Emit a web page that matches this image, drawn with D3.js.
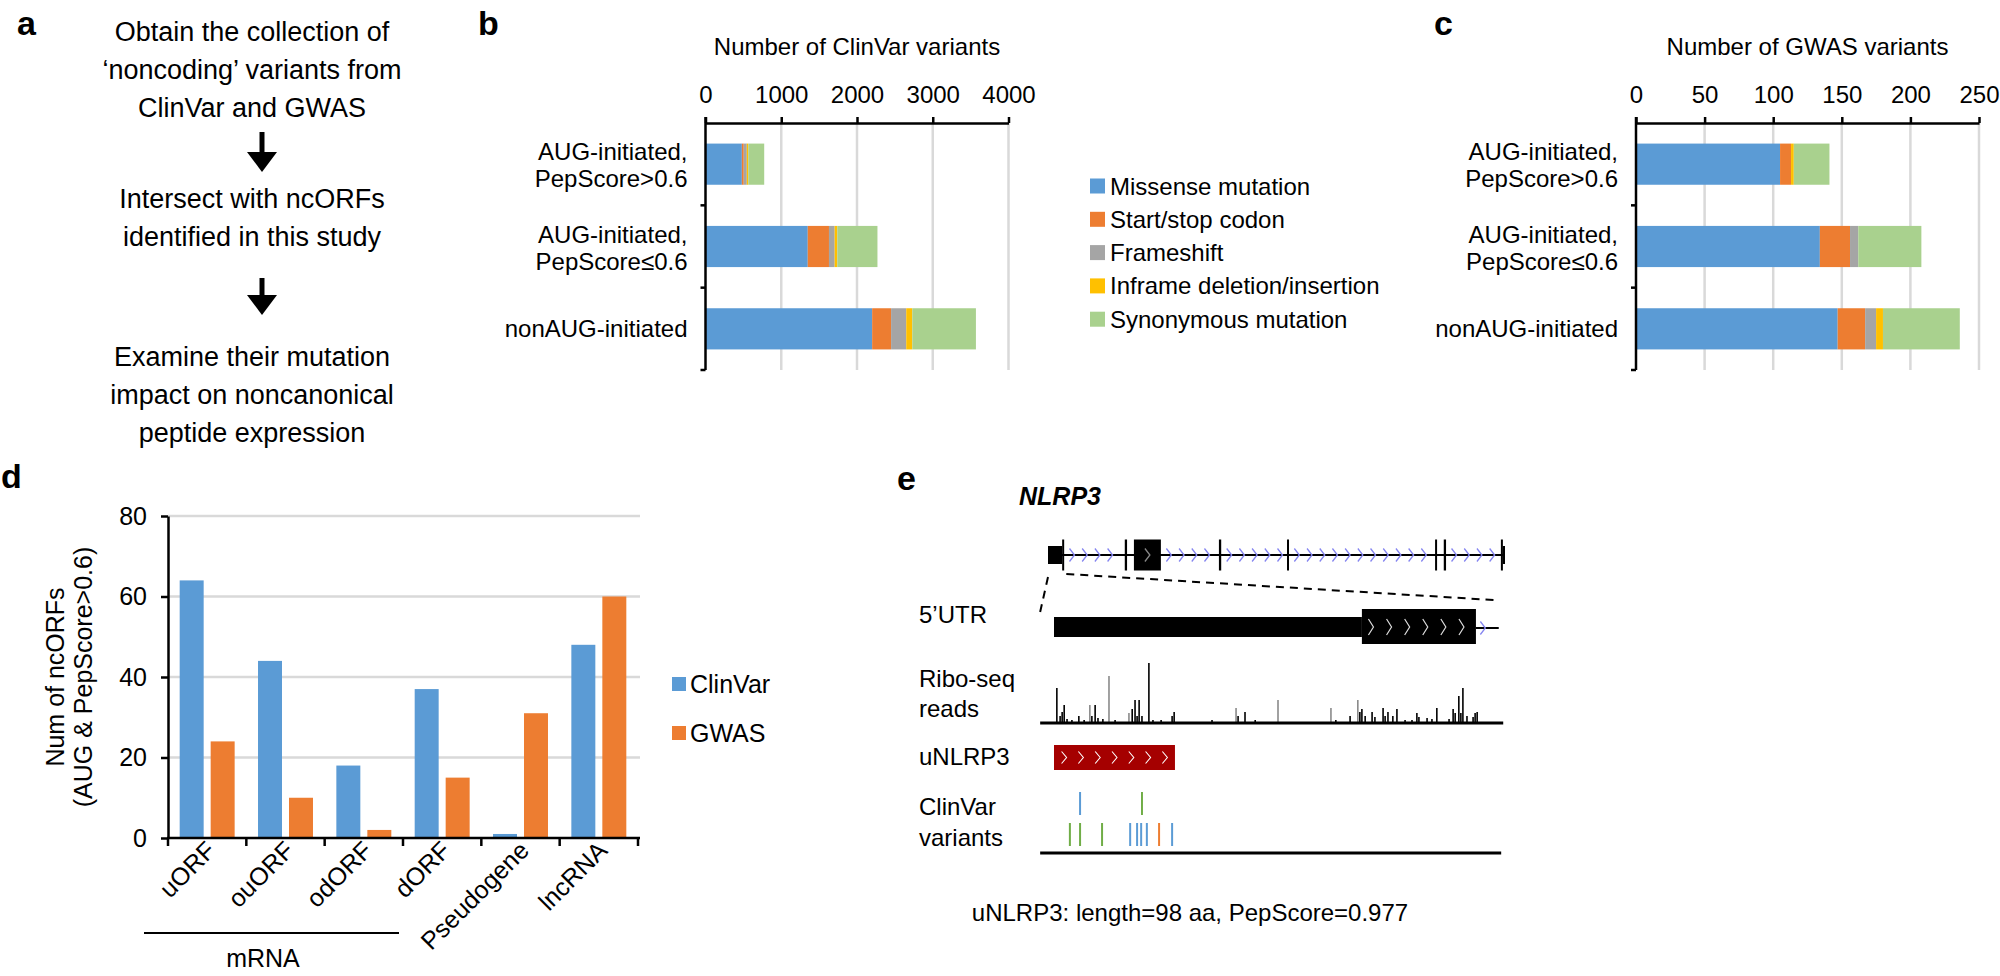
<!DOCTYPE html>
<html>
<head>
<meta charset="utf-8">
<script src="https://cdn.jsdelivr.net/npm/d3@7"></script>
<style>
  body { margin: 0; background: #fff; }
  svg { display: block; font-family: "Liberation Sans", Arial, sans-serif; }
</style>
</head>
<body>
<svg id="fig"></svg>
<script>
// ---- data ----
const flowSteps = [
  ["Obtain the collection of", "\u2018noncoding\u2019 variants from", "ClinVar and GWAS"],
  ["Intersect with ncORFs", "identified in this study"],
  ["Examine their mutation", "impact on noncanonical", "peptide expression"]
];

const orfGroups = ["AUG-initiated,\nPepScore>0.6", "AUG-initiated,\nPepScore\u22640.6", "nonAUG-initiated"];
const mutationTypes = ["Missense mutation", "Start/stop codon", "Frameshift", "Inframe deletion/insertion", "Synonymous mutation"];
const mutationColors = ["#5b9bd5", "#ed7d31", "#a5a5a5", "#ffc000", "#a9d18e"];
const clinvarCounts = [
  [480, 25, 40, 20, 210],
  [1350, 280, 75, 35, 530],
  [2200, 250, 200, 80, 840]
];
const gwasCounts = [
  [105, 8, 0, 2, 26],
  [134, 22, 6, 0, 46],
  [147, 20, 8, 5, 56]
];
const clinvarTicks = [0, 1000, 2000, 3000, 4000];
const gwasTicks = [0, 50, 100, 150, 200, 250];

const ncorfTypes = ["uORF", "ouORF", "odORF", "dORF", "Pseudogene", "lncRNA"];
const ncorfClinvar = [64, 44, 18, 37, 1, 48];
const ncorfGwas = [24, 10, 2, 15, 31, 60];
const ncorfTicks = [0, 20, 40, 60, 80];

// NLRP3 gene model (relative gene units 0-1000)
const geneExonStart = [0, 31, 168, 188, 374, 523, 847, 866, 991, 995];
const geneExonEnd   = [31, 35, 173, 247, 379, 527, 851, 871, 995, 1000];
const geneExonCds   = [false, true, true, true, true, true, true, true, true, false];

// 5'UTR zoom (nt)
const utrThinEnd = 756;
const utrBoxEnd = 1036;
const utrLineEnd = 1092;
const uorfLength = 297; // 98 aa + stop

const riboPos = [7,15,20,25,32,44,61,74,88,93,101,108,120,135,150,184,192,199,204,209,216,233,243,263,290,295,388,447,452,469,494,550,680,692,727,746,751,756,764,781,788,808,813,820,832,842,862,879,891,896,916,928,940,970,980,985,994,999,1004,1014,1029,1034,1039];
const riboReads = [35,7,11,18,4,3,7,3,18,7,18,5,4,47,3,10,14,23,7,23,7,60,3,3,7,11,3,15,7,11,3,23,15,3,7,23,11,14,7,11,6,15,7,11,7,14,3,3,10,6,5,4,15,4,14,10,27,10,35,7,6,10,11];
const riboGrayPos = [88, 135, 184, 447, 550, 680, 746];

const variantPos  = [64, 216, 39, 64, 118, 187, 204, 214, 228, 258, 290];
const variantRow  = [0, 0, 1, 1, 1, 1, 1, 1, 1, 1, 1];
const variantType = ["Missense", "Synonymous", "Synonymous", "Synonymous", "Synonymous", "Missense", "Missense", "Missense", "Missense", "Start/stop", "Missense"];
const variantColors = { "Missense": "#5b9bd5", "Synonymous": "#70ad47", "Start/stop": "#ed7d31" };

// ---- drawing ----
const FONT = '"Liberation Sans", Arial, sans-serif';
const svg = d3.select("#fig").attr("width", 2000).attr("height", 976);
svg.append("rect").attr("width", 2000).attr("height", 976).attr("fill", "#fff");

function panelLabel(t, x, y) {
  svg.append("text").attr("x", x).attr("y", y).attr("font-size", 34)
    .attr("font-weight", "bold").text(t);
}

// panel a
panelLabel("a", 17, 35);
const flowBaselines = [41, 208, 366];
const ga = svg.append("g").attr("font-size", 27).attr("text-anchor", "middle");
flowSteps.forEach((lines, i) => {
  lines.forEach((l, j) => {
    ga.append("text").attr("x", 252).attr("y", flowBaselines[i] + j * 38).text(l);
  });
});
[[132, 172], [278, 315]].forEach(([y0, y1]) => {
  ga.append("line").attr("x1", 262).attr("x2", 262).attr("y1", y0).attr("y2", y1 - 18)
    .attr("stroke", "#000").attr("stroke-width", 5);
  ga.append("path").attr("d", `M247,${y1 - 20}L277,${y1 - 20}L262,${y1}Z`).attr("fill", "#000");
});

// panels b and c
function stackedPanel(counts, ticks, xr, title) {
  const rows = orfGroups.map((grp, i) => {
    const r = { group: grp };
    mutationTypes.forEach((m, j) => { r[m] = counts[i][j]; });
    return r;
  });
  const x = d3.scaleLinear().domain([0, ticks[ticks.length - 1]]).range(xr);
  const y = d3.scaleBand().domain(orfGroups).range([123, 370]).paddingInner(0.5).paddingOuter(0.25);
  const g = svg.append("g");

  g.selectAll(".grid").data(ticks.slice(1)).join("line")
    .attr("x1", d => x(d)).attr("x2", d => x(d)).attr("y1", 123).attr("y2", 370)
    .attr("stroke", "#d9d9d9").attr("stroke-width", 2.5);

  const series = d3.stack().keys(mutationTypes)(rows);
  g.selectAll(".series").data(series).join("g")
    .attr("fill", (d, i) => mutationColors[i])
    .selectAll("rect").data(d => d).join("rect")
    .attr("x", d => x(d[0])).attr("width", d => x(d[1]) - x(d[0]))
    .attr("y", d => y(d.data.group)).attr("height", y.bandwidth());

  const ax = g.append("g").attr("transform", "translate(0,123)")
    .call(d3.axisTop(x).tickValues(ticks).tickFormat(d3.format("d"))
      .tickSize(6).tickSizeOuter(0).tickPadding(14));
  ax.attr("font-size", 24).attr("font-family", FONT);
  ax.select(".domain").attr("stroke-width", 2.5);
  ax.selectAll(".tick line").attr("stroke-width", 2.5);
  ax.selectAll(".tick text").attr("fill", "#000");

  g.append("line").attr("x1", x(0)).attr("x2", x(0)).attr("y1", 117).attr("y2", 370)
    .attr("stroke", "#000").attr("stroke-width", 2.5);
  g.selectAll(".ytick").data(d3.range(1, orfGroups.length + 1)).join("line")
    .attr("x1", x(0) - 5).attr("x2", x(0))
    .attr("y1", d => 123 + d * y.step()).attr("y2", d => 123 + d * y.step())
    .attr("stroke", "#000").attr("stroke-width", 2.5);

  orfGroups.forEach(grp => {
    const lines = grp.split("\n");
    const c = y(grp) + y.bandwidth() / 2;
    lines.forEach((l, j) => {
      const base = lines.length === 1 ? c + 8 : c - 4 + j * 27;
      g.append("text").attr("x", x(0) - 18).attr("y", base).attr("font-size", 24)
        .attr("text-anchor", "end").text(l);
    });
  });

  g.append("text").attr("x", (xr[0] + xr[1]) / 2).attr("y", 55).attr("font-size", 24)
    .attr("text-anchor", "middle").text(title);
}

panelLabel("b", 478, 35);
stackedPanel(clinvarCounts, clinvarTicks, [705.5, 1008.5], "Number of ClinVar variants");
panelLabel("c", 1434, 35);
stackedPanel(gwasCounts, gwasTicks, [1636, 1979], "Number of GWAS variants");

// legend for b/c
const lg = svg.append("g").attr("font-size", 24);
mutationTypes.forEach((m, i) => {
  const cy = 186 + i * 33.3;
  lg.append("rect").attr("x", 1090).attr("y", cy - 7.5).attr("width", 15).attr("height", 15)
    .attr("fill", mutationColors[i]);
  lg.append("text").attr("x", 1110).attr("y", cy + 8.5).text(m);
});

// panel d
panelLabel("d", 1, 488);
const x0 = d3.scaleBand().domain(ncorfTypes).range([168, 638]);
const x1 = d3.scaleBand().domain(["ClinVar", "GWAS"]).range([0, x0.bandwidth()])
  .paddingInner(0.226).paddingOuter(0.377);
const yd = d3.scaleLinear().domain([0, 80]).range([838, 516]);
const gd = svg.append("g");
gd.selectAll(".grid").data(ncorfTicks.slice(1)).join("line")
  .attr("x1", 168).attr("x2", 640).attr("y1", d => yd(d)).attr("y2", d => yd(d))
  .attr("stroke", "#d9d9d9").attr("stroke-width", 2.5);

const dColors = { ClinVar: "#5b9bd5", GWAS: "#ed7d31" };
const dRows = ncorfTypes.map((t, i) => ({ type: t, ClinVar: ncorfClinvar[i], GWAS: ncorfGwas[i] }));
gd.selectAll(".cat").data(dRows).join("g")
  .attr("transform", d => `translate(${x0(d.type)},0)`)
  .selectAll("rect").data(d => ["ClinVar", "GWAS"].map(k => ({ key: k, value: d[k] }))).join("rect")
  .attr("x", d => x1(d.key)).attr("width", x1.bandwidth())
  .attr("y", d => yd(d.value)).attr("height", d => yd(0) - yd(d.value))
  .attr("fill", d => dColors[d.key]);

const ayd = gd.append("g").attr("transform", "translate(168,0)")
  .call(d3.axisLeft(yd).tickValues(ncorfTicks).tickSize(7).tickSizeOuter(0).tickPadding(14));
ayd.attr("font-size", 25).attr("font-family", FONT);
ayd.select(".domain").attr("stroke-width", 2.5);
ayd.selectAll(".tick line").attr("stroke-width", 2.5);
ayd.selectAll(".tick text").attr("fill", "#000");

gd.append("line").attr("x1", 167).attr("x2", 640).attr("y1", 838).attr("y2", 838)
  .attr("stroke", "#000").attr("stroke-width", 2.5);
gd.selectAll(".xtick").data(d3.range(0, ncorfTypes.length + 1)).join("line")
  .attr("x1", d => 168 + d * x0.step()).attr("x2", d => 168 + d * x0.step())
  .attr("y1", 838).attr("y2", 846).attr("stroke", "#000").attr("stroke-width", 2.5);

ncorfTypes.forEach(t => {
  const cx = x0(t) + x0.bandwidth() / 2 + 10;
  gd.append("text").attr("transform", `translate(${cx},852) rotate(-45)`)
    .attr("font-size", 25).attr("text-anchor", "end").text(t);
});
gd.append("line").attr("x1", 144).attr("x2", 399).attr("y1", 933).attr("y2", 933)
  .attr("stroke", "#000").attr("stroke-width", 2);
gd.append("text").attr("x", 263).attr("y", 967).attr("font-size", 25)
  .attr("text-anchor", "middle").text("mRNA");

gd.append("text").attr("transform", "translate(64,677) rotate(-90)")
  .attr("font-size", 25).attr("text-anchor", "middle").text("Num of ncORFs");
gd.append("text").attr("transform", "translate(92,677) rotate(-90)")
  .attr("font-size", 25).attr("text-anchor", "middle").text("(AUG & PepScore>0.6)");

["ClinVar", "GWAS"].forEach((k, i) => {
  const cy = 684 + i * 49;
  gd.append("rect").attr("x", 672).attr("y", cy - 7).attr("width", 14).attr("height", 14)
    .attr("fill", dColors[k]);
  gd.append("text").attr("x", 690).attr("y", cy + 9).attr("font-size", 25).text(k);
});

// panel e
panelLabel("e", 897, 490);
const ge = svg.append("g");
ge.append("text").attr("x", 1019).attr("y", 505).attr("font-size", 25)
  .attr("font-weight", "bold").attr("font-style", "italic").text("NLRP3");

const gx = d3.scaleLinear().domain([0, 1000]).range([1048, 1505]);
const geneY = 555;
ge.append("line").attr("x1", gx(0)).attr("x2", gx(1000)).attr("y1", geneY).attr("y2", geneY)
  .attr("stroke", "#000").attr("stroke-width", 2);

function chevron(g, cx, cy, h, color, w) {
  g.append("path").attr("d", `M${cx - 2.5},${cy - h / 2}L${cx + 2.5},${cy}L${cx - 2.5},${cy + h / 2}`)
    .attr("fill", "none").attr("stroke", color).attr("stroke-width", w || 1.3);
}

// intron chevrons
for (let i = 0; i < geneExonStart.length - 1; i++) {
  const a = gx(geneExonEnd[i]) + 8, b = gx(geneExonStart[i + 1]) - 4;
  for (let cx = a; cx <= b; cx += 12.7) chevron(ge, cx, geneY, 13, "#8585f0");
}
geneExonStart.forEach((s, i) => {
  const h = geneExonCds[i] ? 31 : 18;
  ge.append("rect").attr("x", gx(s)).attr("width", Math.max(2, gx(geneExonEnd[i]) - gx(s)))
    .attr("y", geneY - h / 2).attr("height", h).attr("fill", "#000");
  if (geneExonCds[i] && geneExonEnd[i] - s > 20) chevron(ge, (gx(s) + gx(geneExonEnd[i])) / 2, geneY, 13, "#888");
});

// 5'UTR zoom
const zx = d3.scaleLinear().domain([0, 1100]).range([1054, 1502]);
ge.append("line").attr("x1", gx(0)).attr("y1", 577).attr("x2", zx(-34)).attr("y2", 612)
  .attr("stroke", "#000").attr("stroke-width", 2).attr("stroke-dasharray", "8,6");
ge.append("line").attr("x1", gx(40)).attr("y1", 574).attr("x2", zx(1080)).attr("y2", 600)
  .attr("stroke", "#000").attr("stroke-width", 2).attr("stroke-dasharray", "8,6");

ge.append("line").attr("x1", zx(utrBoxEnd)).attr("x2", zx(utrLineEnd)).attr("y1", 628).attr("y2", 628)
  .attr("stroke", "#000").attr("stroke-width", 2);
ge.append("rect").attr("x", zx(0)).attr("width", zx(utrThinEnd) - zx(0)).attr("y", 617).attr("height", 20).attr("fill", "#000");
ge.append("rect").attr("x", zx(utrThinEnd)).attr("width", zx(utrBoxEnd) - zx(utrThinEnd)).attr("y", 609).attr("height", 35).attr("fill", "#000");
d3.range(6).forEach(k => {
  const px = zx(utrThinEnd) + (zx(utrBoxEnd) - zx(utrThinEnd)) * (k + 0.5) / 6.3;
  chevron(ge, px, 627, 16, "#ddd", 1.2);
});
chevron(ge, zx(1053), 628, 13, "#8585f0");

// ribo-seq
const ry = d3.scaleLinear().domain([0, 60]).range([723, 663]);
ge.selectAll(".ribo").data(riboPos).join("line")
  .attr("x1", d => zx(d)).attr("x2", d => zx(d))
  .attr("y1", ry(0)).attr("y2", (d, i) => ry(riboReads[i]))
  .attr("stroke", d => riboGrayPos.includes(d) ? "#8a8a8a" : "#000").attr("stroke-width", 1.6);
ge.append("line").attr("x1", zx(-34)).attr("x2", zx(1103)).attr("y1", 723).attr("y2", 723)
  .attr("stroke", "#000").attr("stroke-width", 3);

// uNLRP3
ge.append("rect").attr("x", zx(0)).attr("width", zx(uorfLength) - zx(0)).attr("y", 745).attr("height", 25)
  .attr("fill", "#a50000");
d3.range(7).forEach(k => {
  const px = zx(0) + (zx(uorfLength) - zx(0)) * (k + 0.6) / 7.2;
  chevron(ge, px, 757.5, 12, "#fff", 1.1);
});

// ClinVar variants
ge.selectAll(".var").data(variantPos).join("line")
  .attr("x1", d => zx(d)).attr("x2", d => zx(d))
  .attr("y1", (d, i) => 792 + variantRow[i] * 31).attr("y2", (d, i) => 815 + variantRow[i] * 31)
  .attr("stroke", (d, i) => variantColors[variantType[i]]).attr("stroke-width", 2);
ge.append("line").attr("x1", zx(-34)).attr("x2", zx(1098)).attr("y1", 853).attr("y2", 853)
  .attr("stroke", "#000").attr("stroke-width", 3);

const eLabels = [["5\u2019UTR", 623], ["Ribo-seq", 687], ["reads", 717], ["uNLRP3", 765], ["ClinVar", 815], ["variants", 846]];
eLabels.forEach(([t, yb]) => {
  ge.append("text").attr("x", 919).attr("y", yb).attr("font-size", 24).text(t);
});
ge.append("text").attr("x", 1190).attr("y", 921).attr("font-size", 24).attr("text-anchor", "middle")
  .text("uNLRP3: length=98 aa, PepScore=0.977");
</script>
</body>
</html>
